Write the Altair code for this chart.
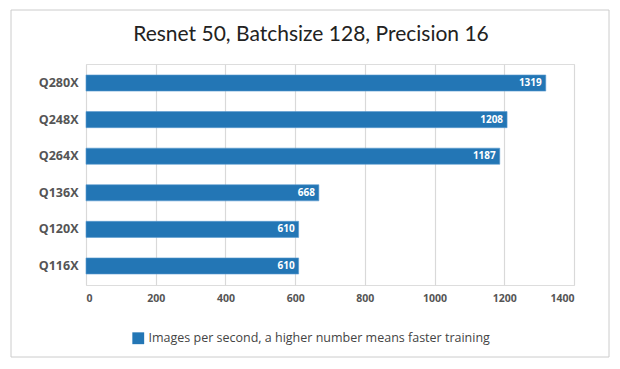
import altair as alt
import pandas as pd

gpus = ["Q280X", "Q248X", "Q264X", "Q136X", "Q120X", "Q116X"]
images_per_sec = [1319, 1208, 1187, 668, 610, 610]
series_name = "Images per second, a higher number means faster training"
x_ticks = [0, 200, 400, 600, 800, 1000, 1200, 1400]

df = pd.DataFrame({"gpu": gpus, "value": images_per_sec, "series": series_name})

W, H = 488, 221
BLUE = "#2376b5"

frame = alt.Chart(pd.DataFrame({"a": [0]})).mark_rect(
    fill=None, stroke="#cccccc", strokeWidth=1, clip=False
).encode(
    x=alt.value(-75), x2=alt.value(523), y=alt.value(-54), y2=alt.value(293)
)

title = alt.Chart(pd.DataFrame({"t": ["Resnet 50, Batchsize 128, Precision 16"]})).mark_text(
    font="Lato", fontSize=21, color="#222222", align="center", baseline="middle"
).encode(text="t:N", x=alt.value(225), y=alt.value(-29))

y_enc = alt.Y("gpu:N", sort=gpus, title=None,
              scale=alt.Scale(paddingInner=0.56, paddingOuter=0.3),
              axis=alt.Axis(labelFont="Open Sans", labelFontWeight="bold", labelFontSize=12.5,
                            labelColor="#555555", ticks=False, domain=False, labelPadding=8, grid=False))
x_enc = alt.X("value:Q", title=None,
              scale=alt.Scale(domain=[0, 1400], nice=False),
              axis=alt.Axis(values=x_ticks, format="d", labelFont="Open Sans", labelFontWeight="bold",
                            labelFontSize=10.5, labelColor="#555555", ticks=False, domain=False,
                            labelPadding=8, grid=True, gridColor="#d9d9d9", gridWidth=1.2))

bars = alt.Chart(df).mark_bar(stroke="#5b9bd0", strokeWidth=0.6).encode(
    x=x_enc, y=y_enc,
    color=alt.Color("series:N", scale=alt.Scale(range=[BLUE]), title=None,
                    legend=alt.Legend(orient="none", legendX=46, legendY=268,
                                      symbolType="square", symbolSize=140,
                                      symbolStrokeWidth=0,
                                      labelFont="Open Sans", labelFontSize=12.5,
                                      labelColor="#444444", labelLimit=500))
)

labels = alt.Chart(df).mark_text(
    align="right", baseline="middle", dx=-4, color="white",
    font="Open Sans", fontWeight="bold", fontSize=10
).encode(x="value:Q", y=alt.Y("gpu:N", sort=gpus), text="value:Q")

chart = alt.layer(frame, bars, labels, title).properties(
    width=W, height=H,
    autosize=alt.AutoSizeParams(type="none"),
    padding={"left": 78, "top": 56, "right": 38, "bottom": 76},
).configure_view(stroke=None).configure(background="white")

chart.save("out.html", embed_options={"renderer": "svg", "actions": False})
